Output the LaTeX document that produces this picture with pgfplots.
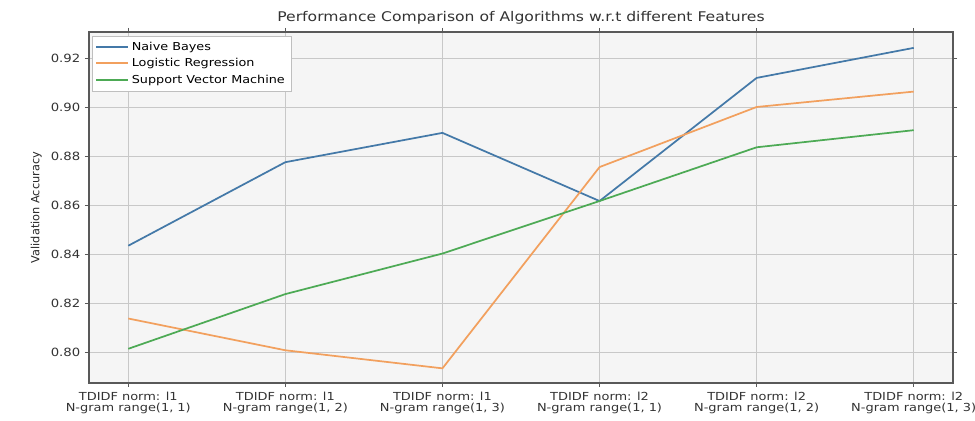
\documentclass[border=0pt]{standalone}
\usepackage{pgfplots}
\pgfplotsset{compat=1.18}
\usepackage{fontspec}
\setmainfont{DejaVu Sans}[FakeStretch=1.17]
\newfontfamily\plainfont{DejaVu Sans}
\definecolor{nb}{HTML}{4479A8}
\definecolor{lr}{HTML}{F2A05E}
\definecolor{svm}{HTML}{4DAA55}
\definecolor{bg}{HTML}{F5F5F5}
\definecolor{gridc}{HTML}{C8C8C8}
\begin{document}
\begin{tikzpicture}
\path[use as bounding box] (-66.75pt,-28.5pt) rectangle (664.5pt,287.25pt);
\begin{axis}[
  name=ax, at={(0,0)}, anchor=south west,
  scale only axis, width=648pt, height=263.25pt,
  xmin=-0.25, xmax=5.25, ymin=0.7873, ymax=0.931,
  axis background/.style={fill=bg},
  axis line style={draw=black!65, line width=0.8pt},
  grid=major, major grid style={draw=gridc, line width=0.6pt},
  tick align=outside, major tick length=3pt,
  tick style={draw=black!65, line width=0.6pt},
  xtick={0,1,2,3,4,5},
  xticklabels={{TDIDF norm: l1\\N-gram range(1, 1)},{TDIDF norm: l1\\N-gram range(1, 2)},{TDIDF norm: l1\\N-gram range(1, 3)},{TDIDF norm: l2\\N-gram range(1, 1)},{TDIDF norm: l2\\N-gram range(1, 2)},{TDIDF norm: l2\\N-gram range(1, 3)}},
  xticklabel style={align=center, font=\fontsize{8.3}{8.8}\selectfont, text=black!80},
  ytick={0.80,0.82,0.84,0.86,0.88,0.90,0.92},
  yticklabel style={font=\fontsize{8.5}{10}\selectfont, text=black!80, /pgf/number format/fixed, /pgf/number format/fixed zerofill, /pgf/number format/precision=2},
  /pgf/number format/assume math mode=true,
  ylabel={\plainfont Validation Accuracy},
  ylabel style={font=\fontsize{8.5}{9}\selectfont, text=black!85},
  title={Performance Comparison of Algorithms w.r.t different Features},
  title style={font=\fontsize{10}{11}\selectfont, text=black!80, yshift=-4pt},
  legend style={at={(0,1)}, anchor=north west, xshift=2pt, yshift=-3pt,
    fill=white, draw=black!25,
    font=\fontsize{8.2}{10}\selectfont, row sep=0.5pt, inner sep=2.5pt},
  legend cell align=left,
  legend image code/.code={\draw[#1, line width=1.4pt] (0pt,0.3pt) -- (24pt,0.3pt);},
]
\addplot[nb, line width=1.3pt] coordinates {(0,0.8435) (1,0.8777) (2,0.8897) (3,0.8618) (4,0.9122) (5,0.9245)};
\addlegendentry{Naive Bayes}
\addplot[lr, line width=1.3pt] coordinates {(0,0.8137) (1,0.8007) (2,0.7933) (3,0.8757) (4,0.9003) (5,0.9066)};
\addlegendentry{Logistic Regression}
\addplot[svm, line width=1.3pt] coordinates {(0,0.8013) (1,0.8237) (2,0.8403) (3,0.8618) (4,0.8838) (5,0.8908)};
\addlegendentry{Support Vector Machine}
\end{axis}
\end{tikzpicture}
\end{document}
